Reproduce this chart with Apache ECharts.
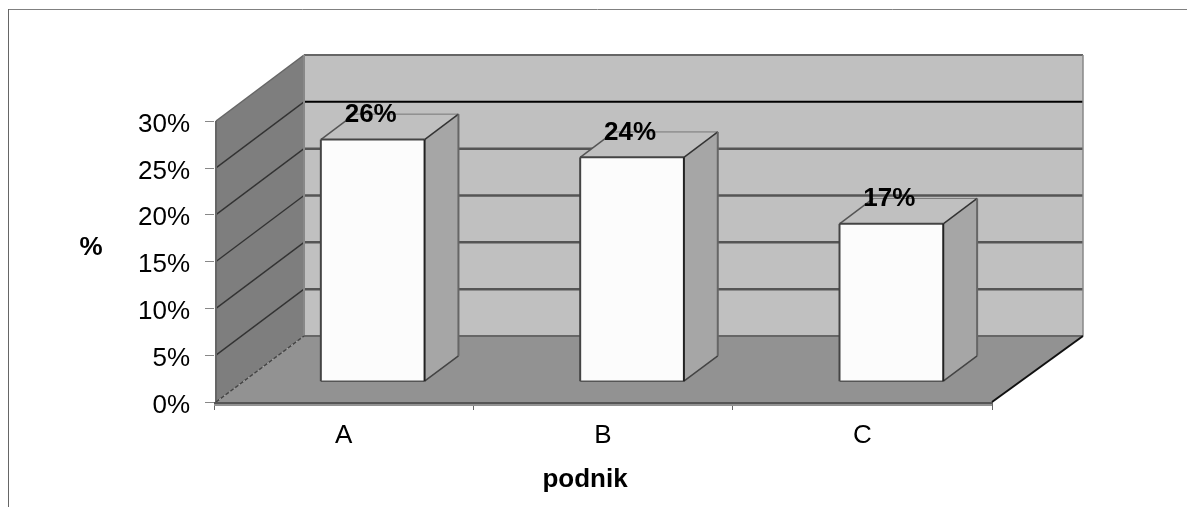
<!DOCTYPE html>
<html>
<head>
<meta charset="utf-8">
<style>
  html, body { margin: 0; padding: 0; background: #fff; }
  #chart { width: 1187px; height: 507px; }
</style>
<script src="https://cdn.jsdelivr.net/npm/echarts@6/dist/echarts.min.js"></script>
</head>
<body>
<div id="chart"></div>
<script>
const categories = ["A", "B", "C"];
const values = [25.8, 23.9, 16.8];
const barLabels = ["26%", "24%", "17%"];
const yTicks = [5, 10, 15, 20, 25];

const font = "'Liberation Sans', Arial, sans-serif";
const depthX = 88;
const depthY = 66;

// oblique projection: depth 0 is the front of the box, 1 the back wall
const shift = (p, d) => [p[0] + depthX * d, p[1] - depthY * d];

const poly = (points, fill, stroke, lineWidth) => ({
  type: "polygon",
  shape: { points },
  style: { fill, stroke: stroke || null, lineWidth: lineWidth || 0 },
});
const line = (a, b, stroke, lineWidth, lineDash) => ({
  type: "line",
  shape: { x1: a[0], y1: a[1], x2: b[0], y2: b[1] },
  style: { stroke, lineWidth, lineDash: lineDash || null },
});

function renderRoom(params, api) {
  const c = params.coordSys;
  const left = c.x + 2;
  const right = c.x + c.width;
  const yOf = (v) => api.coord([0, v])[1];
  const y0 = yOf(0);
  const yTop = yOf(30);
  const fl = [left, y0];
  const fr = [right, y0];
  const tl = [left, yTop];
  const bl = shift(fl, 1);
  const br = [shift(fr, 1)[0] + 3, bl[1]];
  const tlBack = shift(tl, 1);
  const trBack = [br[0], tlBack[1]];

  const children = [
    poly([tlBack, trBack, br, bl], "#c0c0c0"),
    poly([tl, tlBack, bl, fl], "#7e7e7e"),
    poly([fl, bl, br, fr, [right, y0 + 4], [c.x, y0 + 4], [c.x, y0]], "#929292"),
  ];
  for (const v of yTicks) {
    const y = yOf(v);
    const back = shift([left, y], 1);
    children.push(line(back, [br[0], back[1]], v === 25 ? "#000" : "#555", v === 25 ? 2 : 2.5));
    children.push(line([left, y], back, "#333", 1.4));
  }
  children.push(line(tlBack, trBack, "#666", 2));
  children.push(line(tl, tlBack, "#666", 1.5));
  children.push(line(tl, fl, "#666", 2));
  children.push(line(tlBack, bl, "#888", 2));
  children.push(line(trBack, br, "#888", 1.5));
  children.push(line(bl, br, "#666", 2));
  children.push(line(fl, bl, "#444", 1.4, [4, 2]));
  children.push(line(fr, br, "#111", 2));
  children.push(line([c.x, y0 + 1], [right, y0 + 1], "#555", 2));
  return { type: "group", children };
}

function renderBar(params, api) {
  const i = api.value(0);
  const v = api.value(1);
  const halfBand = (api.size([1, 0])[0] * 0.4) / 2;
  const near = 0.33;
  const far = 0.715;
  const center = api.coord([i, 0])[0];
  const base = [center - halfBand, api.coord([i, 0])[1] + 1];
  const top = [center - halfBand, api.coord([i, v])[1] + 1];
  const w = halfBand * 2;
  const a = shift(top, near);
  const b = shift([top[0] + w, top[1]], near);
  const c = shift([base[0] + w, base[1]], near);
  const d = shift(base, near);
  const aBack = shift(top, far);
  const bBack = shift([top[0] + w, top[1]], far);
  const cBack = shift([base[0] + w, base[1]], far);
  return {
    type: "group",
    children: [
      poly([b, bBack, cBack, c], "#a6a6a6"),
      poly([a, aBack, bBack, b], "#c0c0c0"),
      poly([a, b, c, d], "#fcfcfc"),
      line(aBack, bBack, "#777", 1),
      line(a, aBack, "#555", 1.5),
      line(b, bBack, "#333", 1.5),
      line(bBack, cBack, "#666", 2),
      line(c, cBack, "#444", 1.5),
      line(a, b, "#444", 2),
      line(a, d, "#444", 2),
      line(d, c, "#555", 1.5),
      line(b, c, "#222", 2),
      {
        type: "text",
        x: (a[0] + b[0]) / 2 - 2,
        y: a[1] - 25,
        style: {
          text: barLabels[i],
          fill: "#000",
          font: "bold 26px " + font,
          textAlign: "center",
          textVerticalAlign: "middle",
        },
      },
    ],
  };
}

const option = {
  animation: false,
  backgroundColor: "#fff",
  grid: { left: 214, top: 121, width: 778, height: 281, containLabel: false },
  xAxis: {
    type: "category",
    data: categories,
    axisLine: { show: true, lineStyle: { color: "#666" } },
    axisTick: { show: true, length: 8, lineStyle: { color: "#666" } },
    axisLabel: { fontFamily: font, fontSize: 26, color: "#000", margin: 21 },
  },
  yAxis: {
    type: "value",
    min: 0,
    max: 30,
    interval: 5,
    axisLine: { show: false },
    axisTick: { show: true, length: 9, lineStyle: { color: "#888" } },
    splitLine: { show: false },
    axisLabel: {
      margin: 24,
      formatter: "{t|{value}%}",
      rich: {
        t: { fontFamily: font, fontSize: 26, color: "#000", padding: [7, 0, 0, 0] },
      },
    },
  },
  series: [
    {
      type: "custom",
      coordinateSystem: "cartesian2d",
      z: 1,
      silent: true,
      renderItem: renderRoom,
      data: [[0, 0]],
    },
    {
      type: "custom",
      coordinateSystem: "cartesian2d",
      z: 3,
      renderItem: renderBar,
      encode: { x: 0, y: 1 },
      data: values.map((v, i) => [i, v]),
    },
  ],
  // axis titles sit off-centre in the original, so they are placed by hand
  // outer chart frame, only the top and left edges are in the picture
  graphic: [
    {
      type: "text",
      x: 585,
      y: 480,
      style: { text: "podnik", font: "bold 26px " + font, fill: "#000", textAlign: "center", textVerticalAlign: "middle" },
    },
    {
      type: "text",
      x: 91,
      y: 248,
      style: { text: "%", font: "bold 26px " + font, fill: "#000", textAlign: "center", textVerticalAlign: "middle" },
    },
    { type: "line", shape: { x1: 8, y1: 9.5, x2: 1187, y2: 9.5 }, style: { stroke: "#808080", lineWidth: 1 } },
    { type: "line", shape: { x1: 8.5, y1: 9, x2: 8.5, y2: 507 }, style: { stroke: "#666", lineWidth: 1 } },
  ],
};

echarts.init(document.getElementById("chart")).setOption(option);
</script>
</body>
</html>
